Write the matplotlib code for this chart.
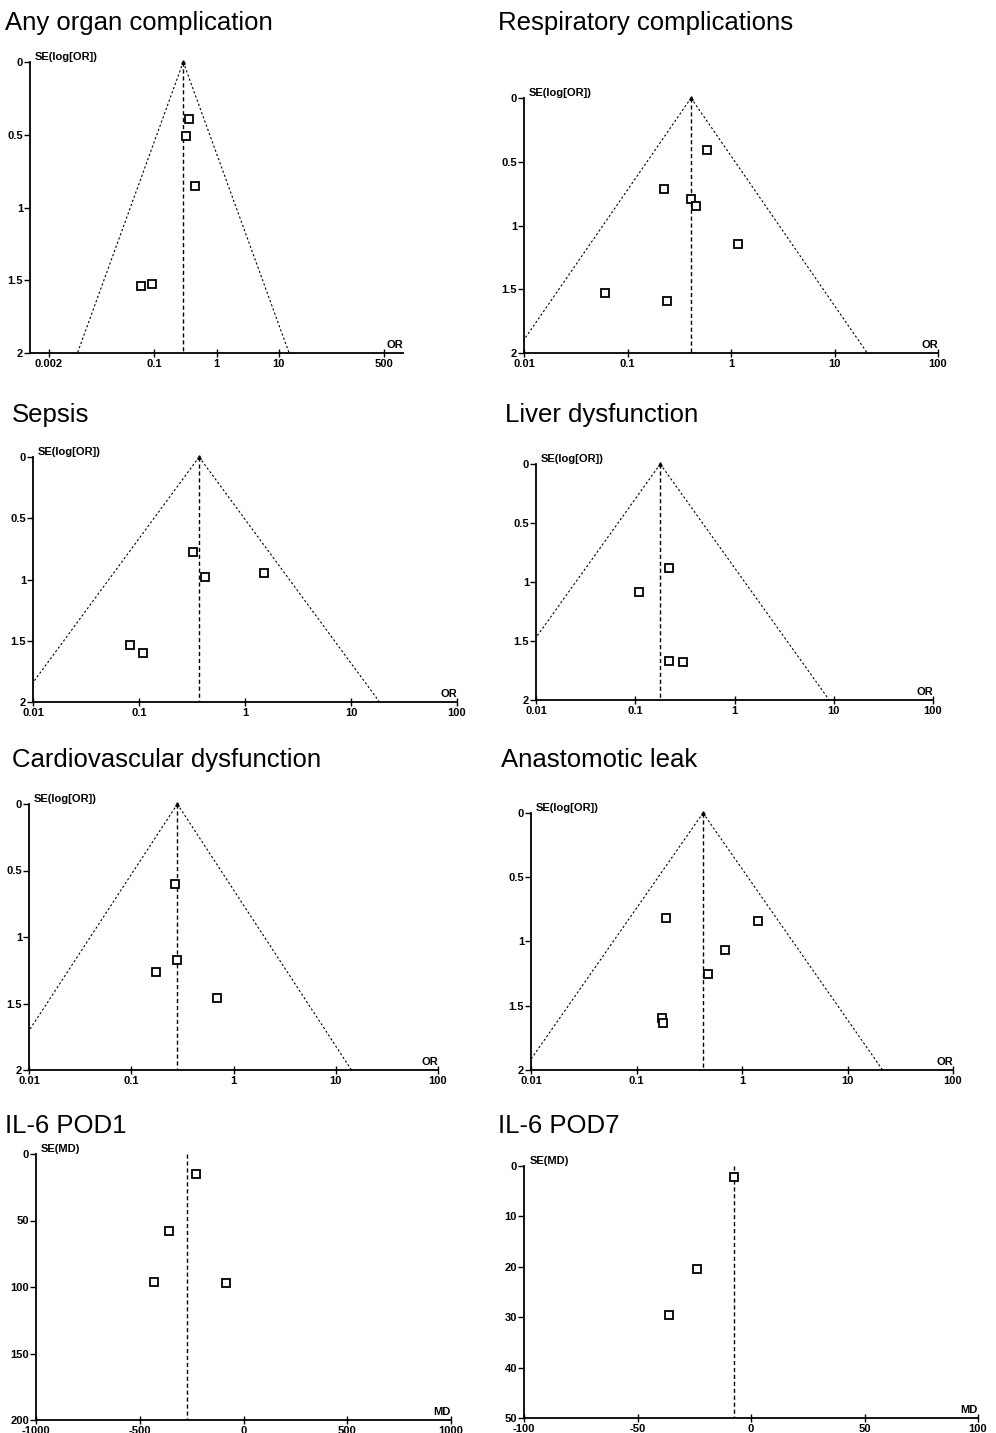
import numpy as np
import matplotlib
matplotlib.use("Agg")
import matplotlib.pyplot as plt
from matplotlib.ticker import NullLocator

# ---------------- data ----------------
titles = ["Any organ complication", "Respiratory complications", "Sepsis",
          "Liver dysfunction", "Cardiovascular dysfunction", "Anastomotic leak",
          "IL-6 POD1", "IL-6 POD7"]

any_or = [0.355, 0.318, 0.448, 0.0614, 0.0907]
any_se = [0.395, 0.512, 0.853, 1.538, 1.527]
any_pooled = 0.292

resp_or = [0.587, 0.2275, 0.411, 0.456, 1.168, 0.0609, 0.241]
resp_se = [0.407, 0.714, 0.793, 0.847, 1.142, 1.533, 1.591]
resp_pooled = 0.411

sepsis_or = [0.324, 0.42, 1.52, 0.0814, 0.108]
sepsis_se = [0.778, 0.98, 0.947, 1.537, 1.603]
sepsis_pooled = 0.369

liver_or = [0.2166, 0.108, 0.22, 0.304]
liver_se = [0.881, 1.088, 1.669, 1.678]
liver_pooled = 0.1786

cardio_or = [0.266, 0.278, 0.176, 0.697]
cardio_se = [0.600, 1.172, 1.262, 1.460]
cardio_pooled = 0.2825

leak_or = [0.192, 1.418, 0.685, 0.48, 0.173, 0.177]
leak_se = [0.818, 0.842, 1.065, 1.252, 1.597, 1.634]
leak_pooled = 0.427

pod1_md = [-228, -357, -429, -85]
pod1_se = [14.8, 58.1, 96.5, 97.0]
pod1_pooled = -271.7

pod7_md = [-7.35, -23.7, -36.0]
pod7_se = [2.11, 20.45, 29.6]
pod7_pooled = -7.35

or_ticks_wide = [0.002, 0.1, 1, 10, 500]
or_ticks_wide_labels = ["0.002", "0.1", "1", "10", "500"]
or_ticks = [0.01, 0.1, 1, 10, 100]
or_ticks_labels = ["0.01", "0.1", "1", "10", "100"]
se_or_ticks = [0, 0.5, 1, 1.5, 2]
se_or_labels = ["0", "0.5", "1", "1.5", "2"]
pod1_xticks = [-1000, -500, 0, 500, 1000]
pod1_yticks = [0, 50, 100, 150, 200]
pod7_xticks = [-100, -50, 0, 50, 100]
pod7_yticks = [0, 10, 20, 30, 40, 50]

# ---------------- figure ----------------
W, H = 996, 1433
plt.rcParams['font.family'] = ['Liberation Sans', 'DejaVu Sans']
fig = plt.figure(figsize=(W / 100, H / 100), dpi=100)

TICK_FS = 8


def add_ax(l, r, t, b):
    return fig.add_axes([l / W, 1 - b / H, (r - l) / W, (b - t) / H])


def style(ax, xticks, xlabels, yticks, ylabels, ylab, xlab):
    for s in ["top", "right"]:
        ax.spines[s].set_visible(False)
    for s in ["left", "bottom"]:
        ax.spines[s].set_linewidth(1.3)
    ax.xaxis.set_minor_locator(NullLocator())
    ax.yaxis.set_minor_locator(NullLocator())
    ax.set_xticks(xticks)
    ax.set_xticklabels(xlabels, fontsize=TICK_FS, fontweight="bold")
    ax.set_yticks(yticks)
    ax.set_yticklabels(ylabels, fontsize=TICK_FS, fontweight="bold")
    ax.tick_params(axis="x", direction="inout", length=6, width=1.0, pad=1)
    ax.tick_params(axis="y", direction="out", length=4, width=1.0, pad=1)
    ax.text(0.012, 1.0, ylab, transform=ax.transAxes, ha="left", va="bottom",
            fontsize=TICK_FS, fontweight="bold")
    ax.text(1.0, 0.012, xlab, transform=ax.transAxes, ha="right", va="bottom",
            fontsize=TICK_FS, fontweight="bold")


def or_panel(box, ors, ses, pooled, xlim, xticks, xlabels):
    ax = add_ax(*box)
    ax.set_xscale("log")
    ax.set_xlim(*xlim)
    ax.set_ylim(2, 0)
    se_line = np.array([0.0, 2.0])
    half = 1.96 * se_line
    ax.plot(pooled * np.exp(-half), se_line, color="black", lw=0.8, ls=(0, (2, 2)))
    ax.plot(pooled * np.exp(half), se_line, color="black", lw=0.8, ls=(0, (2, 2)))
    ax.plot([pooled, pooled], [0, 2], color="black", lw=1.0, ls=(0, (3, 2)))
    ax.plot([pooled], [0], marker="^", ms=2.5, color="black", clip_on=False)
    ax.plot(ors, ses, ls="none", marker="s", ms=6, mfc="white", mec="black",
            mew=1.3, zorder=3, clip_on=False)
    style(ax, xticks, xlabels, se_or_ticks, se_or_labels, "SE(log[OR])", "OR")
    return ax


def md_panel(box, mds, ses, pooled, xlim, ylim, xticks, yticks):
    ax = add_ax(*box)
    ax.set_xlim(*xlim)
    ax.set_ylim(ylim, 0)
    ax.plot([pooled, pooled], [0, ylim], color="black", lw=1.0, ls=(0, (3, 2)))
    ax.plot(mds, ses, ls="none", marker="s", ms=6, mfc="white", mec="black",
            mew=1.3, zorder=3, clip_on=False)
    style(ax, xticks, [str(v) for v in xticks], yticks, [str(v) for v in yticks],
          "SE(MD)", "MD")
    return ax


or_panel((30, 403, 62, 353), any_or, any_se, any_pooled, (0.001, 1000),
         or_ticks_wide, or_ticks_wide_labels)
or_panel((524, 938, 98, 353), resp_or, resp_se, resp_pooled, (0.01, 100),
         or_ticks, or_ticks_labels)
or_panel((33, 457, 457, 702), sepsis_or, sepsis_se, sepsis_pooled, (0.01, 100),
         or_ticks, or_ticks_labels)
or_panel((536, 933, 464, 700), liver_or, liver_se, liver_pooled, (0.01, 100),
         or_ticks, or_ticks_labels)
or_panel((29, 438, 804, 1070), cardio_or, cardio_se, cardio_pooled, (0.01, 100),
         or_ticks, or_ticks_labels)
or_panel((531, 953, 813, 1070), leak_or, leak_se, leak_pooled, (0.01, 100),
         or_ticks, or_ticks_labels)
md_panel((36, 451, 1154, 1420), pod1_md, pod1_se, pod1_pooled, (-1000, 1000), 200,
         pod1_xticks, pod1_yticks)
md_panel((524, 978, 1166, 1418), pod7_md, pod7_se, pod7_pooled, (-100, 100), 50,
         pod7_xticks, pod7_yticks)

title_pos = [(5, 30), (498, 30), (12, 422), (505, 422),
             (12, 767), (501, 767), (5, 1133), (498, 1133)]
for t, (x, y) in zip(titles, title_pos):
    fig.text(x / W, 1 - y / H, t, fontsize=18.5, ha="left", va="baseline")

fig.savefig("out.png", dpi=100, facecolor="white")
